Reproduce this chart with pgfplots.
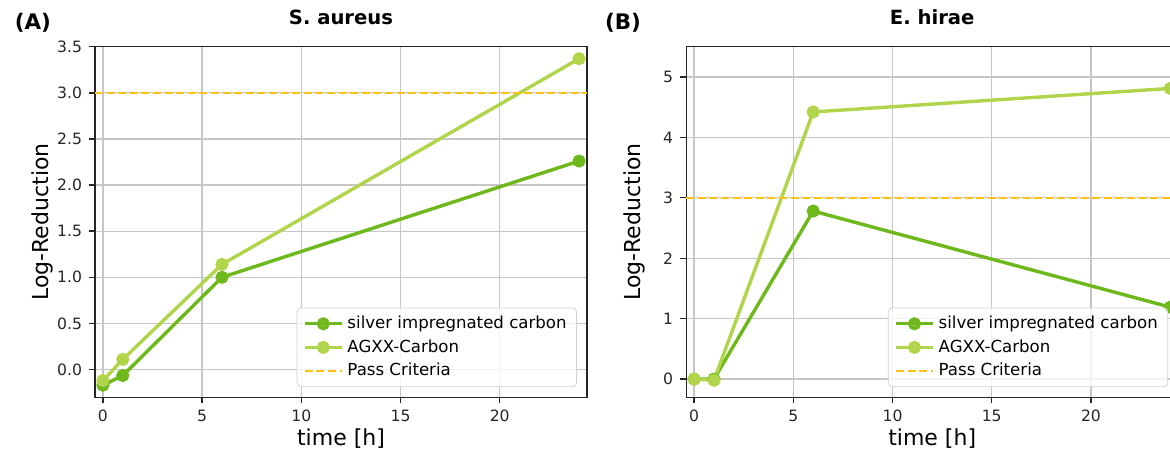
\documentclass[border=0pt]{standalone}
\usepackage{fontspec}
\setmainfont{DejaVu Sans}
\usepackage{pgfplots}
\pgfplotsset{compat=1.18}

\definecolor{silver}{HTML}{6DB81A}
\definecolor{agxx}{HTML}{B0D44A}
\definecolor{pass}{HTML}{FFC20E}
\definecolor{gridc}{HTML}{C6C6C6}

\pgfplotsset{
  panel/.style={
    scale only axis, width=246pt, height=175.25pt,
    anchor=south west,
    xmin=-0.4, xmax=24.4, xtick={0,5,...,20},
    grid=major, major grid style={gridc, line width=0.65pt},
    axis line style={black!85, line width=0.7pt},
    tick align=outside, tick pos=left, major tick length=3pt,
    tick style={black!85, line width=0.7pt},
    ticklabel style={font=\fontsize{7.8}{9}\selectfont, text=black!85},
    /pgf/number format/assume math mode=true,
    xlabel={time [h]}, ylabel={Log-Reduction},
    label style={font=\fontsize{11}{13}\selectfont},
    xlabel style={at={(axis description cs:0.5,-0.139)}, anchor=base},
    ylabel style={at={(axis description cs:-0.0936,0.5)}, anchor=base},
    title style={at={(axis description cs:0.5,1)}, anchor=base, yshift=5pt,
      font=\bfseries\fontsize{9.8}{11}\selectfont},
    legend style={at={(axis description cs:1,0)}, anchor=south east,
      xshift=-5pt, yshift=5pt, draw=black!18, rounded corners=2pt,
      fill=white, fill opacity=0.8, text opacity=1,
      font=\fontsize{8.3}{10}\selectfont, cells={anchor=west}},
    legend image code/.code={\draw[mark repeat=2,mark phase=2,##1]
      plot coordinates {(0pt,0pt) (9.25pt,0pt) (18.5pt,0pt)};},
    every axis plot/.append style={line width=1.7pt, mark size=2.4pt},
  },
  passline/.style={pass, line width=1pt, dash pattern=on 4pt off 1.8pt, mark=none},
}

\begin{document}
\begin{tikzpicture}

\node[anchor=base west, font=\bfseries\fontsize{10.7}{12}\selectfont] at (3.85pt,-14.7pt) {(A)};
\node[anchor=base west, font=\bfseries\fontsize{10.7}{12}\selectfont] at (299pt,-14.7pt) {(B)};

\begin{axis}[panel, at={(47.5pt,-198.6pt)},
  title={S. aureus},
  ymin=-0.3, ymax=3.5, ytick={0,0.5,...,3.5},
  yticklabel style={/pgf/number format/.cd, fixed, fixed zerofill, precision=1}]
\addplot[silver, mark=*] coordinates {(0,-0.17) (1,-0.065) (6,1.0) (24,2.26)};
\addlegendentry{silver impregnated carbon}
\addplot[agxx, mark=*] coordinates {(0,-0.12) (1,0.11) (6,1.14) (24,3.37)};
\addlegendentry{AGXX-Carbon}
\addplot[passline] coordinates {(-0.4,3) (24.4,3)};
\addlegendentry{Pass Criteria}
\end{axis}

\begin{axis}[panel, at={(343.1pt,-198.6pt)},
  title={E. hirae},
  ymin=-0.3, ymax=5.5, ytick={0,1,...,5}]
\addplot[silver, mark=*] coordinates {(0,0) (1,0) (6,2.78) (24,1.19)};
\addlegendentry{silver impregnated carbon}
\addplot[agxx, mark=*] coordinates {(0,0) (1,-0.02) (6,4.42) (24,4.81)};
\addlegendentry{AGXX-Carbon}
\addplot[passline] coordinates {(-0.4,3) (24.4,3)};
\addlegendentry{Pass Criteria}
\end{axis}

\pgfresetboundingbox
\useasboundingbox (0,0) rectangle (585pt,-227pt);
\end{tikzpicture}
\end{document}
